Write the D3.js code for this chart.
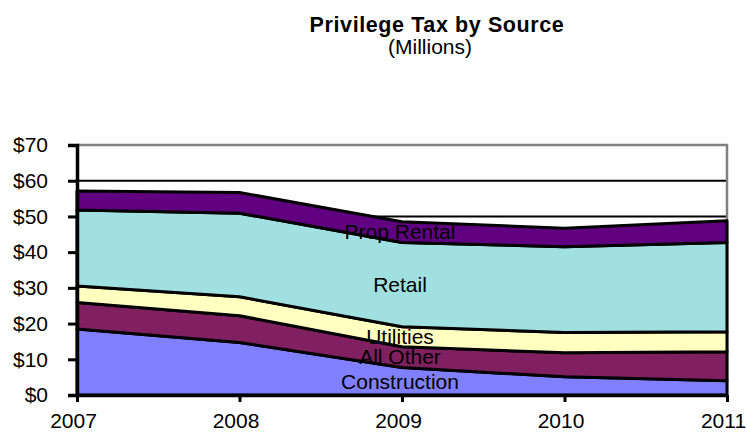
<!DOCTYPE html>
<html>
<head>
<meta charset="utf-8">
<script src="https://cdn.jsdelivr.net/npm/d3@7"></script>
<style>
  body { margin: 0; background: #fff; }
  svg text { font-family: "Liberation Sans", Arial, sans-serif; }
</style>
</head>
<body>
<div class="canvas"></div>
<script>
let years = [2007, 2008, 2009, 2010, 2011];
let seriesNames = ['Construction', 'All Other', 'Utilities', 'Retail', 'Prop Rental'];
let construction = [18.5, 14.7, 7.7, 5.1, 4.0];
let allOther = [7.4, 7.5, 5.8, 6.7, 8.1];
let utilities = [4.6, 5.3, 5.6, 5.7, 5.6];
let retail = [21.3, 23.4, 23.6, 24.0, 25.0];
let propRental = [5.3, 5.8, 5.8, 5.2, 6.1];
let yTicks = [0, 10, 20, 30, 40, 50, 60, 70];
let colors = ['#8080FF', '#802060', '#FFFFC0', '#A0E0E0', '#600080'];

let width = 747, height = 433;
const margin = { top: 145, right: 20, bottom: 38, left: 77 };

let svg = d3.select('.canvas').append('svg')
  .attr('width', width)
  .attr('height', height);

// Title
svg.append('text')
  .attr('x', 437).attr('y', 32)
  .attr('text-anchor', 'middle')
  .style('font-size', '21.5px')
  .style('font-weight', 'bold')
  .style('letter-spacing', '0.6px')
  .text('Privilege Tax by Source');
svg.append('text')
  .attr('x', 430).attr('y', 54)
  .attr('text-anchor', 'middle')
  .style('font-size', '21px')
  .text('(Millions)');

let xScale = d3.scaleLinear().domain([2007, 2011]).range([margin.left, width - margin.right]);
let yScale = d3.scaleLinear().domain([0, 70]).range([height - margin.bottom, margin.top]);

// table for the stack
let table = years.map((y, i) => ({
  year: y,
  'Construction': construction[i],
  'All Other': allOther[i],
  'Utilities': utilities[i],
  'Retail': retail[i],
  'Prop Rental': propRental[i]
}));
let stacked = d3.stack().keys(seriesNames)(table);

// gridlines
svg.append('g').selectAll('line')
  .data(yTicks.filter(d => d > 0 && d < 70))
  .enter().append('line')
  .attr('x1', xScale(2007)).attr('x2', xScale(2011))
  .attr('y1', d => yScale(d)).attr('y2', d => yScale(d))
  .attr('stroke', '#000').attr('stroke-width', 2);

// plot border top / right (gray)
svg.append('path')
  .attr('d', `M${xScale(2007)},${yScale(70)}H${xScale(2011)}V${yScale(0)}`)
  .attr('fill', 'none')
  .attr('stroke', '#808080')
  .attr('stroke-width', 2.5);

let area = d3.area()
  .x(d => xScale(d.data.year))
  .y0(d => yScale(d[0]))
  .y1(d => yScale(d[1]));

svg.append('g').selectAll('path')
  .data(stacked)
  .enter().append('path')
  .attr('d', area)
  .attr('fill', (d, i) => colors[i])
  .attr('stroke', '#000')
  .attr('stroke-width', 3)
  .attr('stroke-linejoin', 'round');

// series labels at 2009, centered in their band
let labelIdx = years.indexOf(2009);
svg.append('g').selectAll('text')
  .data(stacked)
  .enter().append('text')
  .attr('x', xScale(2009) - 2)
  .attr('y', d => yScale((d[labelIdx][0] + d[labelIdx][1]) / 2))
  .attr('dy', '0.35em')
  .attr('text-anchor', 'middle')
  .style('font-size', '21px')
  .attr('fill', '#000')
  .text(d => d.key);

// axes
let yAxis = svg.append('g')
  .attr('transform', `translate(${margin.left},0)`)
  .call(d3.axisLeft(yScale).tickValues(yTicks).tickFormat(d => '$' + d).tickSize(9).tickPadding(20));
yAxis.select('.domain').attr('stroke-width', 3.5);
yAxis.selectAll('.tick line').attr('stroke-width', 3);
yAxis.selectAll('.tick text').style('font-size', '21px').attr('fill', '#000')
  .style('font-family', '"Liberation Sans", Arial, sans-serif');

let xAxis = svg.append('g')
  .attr('transform', `translate(0,${yScale(0)})`)
  .call(d3.axisBottom(xScale).tickValues(years).tickFormat(d3.format('d')).tickSize(7).tickSizeOuter(0).tickPadding(11));
xAxis.select('.domain').attr('stroke-width', 3.5);
xAxis.selectAll('.tick line').attr('stroke-width', 3);
xAxis.selectAll('.tick text').style('font-size', '21px').attr('fill', '#000')
  .attr('dx', -4)
  .style('font-family', '"Liberation Sans", Arial, sans-serif');
</script>
</body>
</html>
